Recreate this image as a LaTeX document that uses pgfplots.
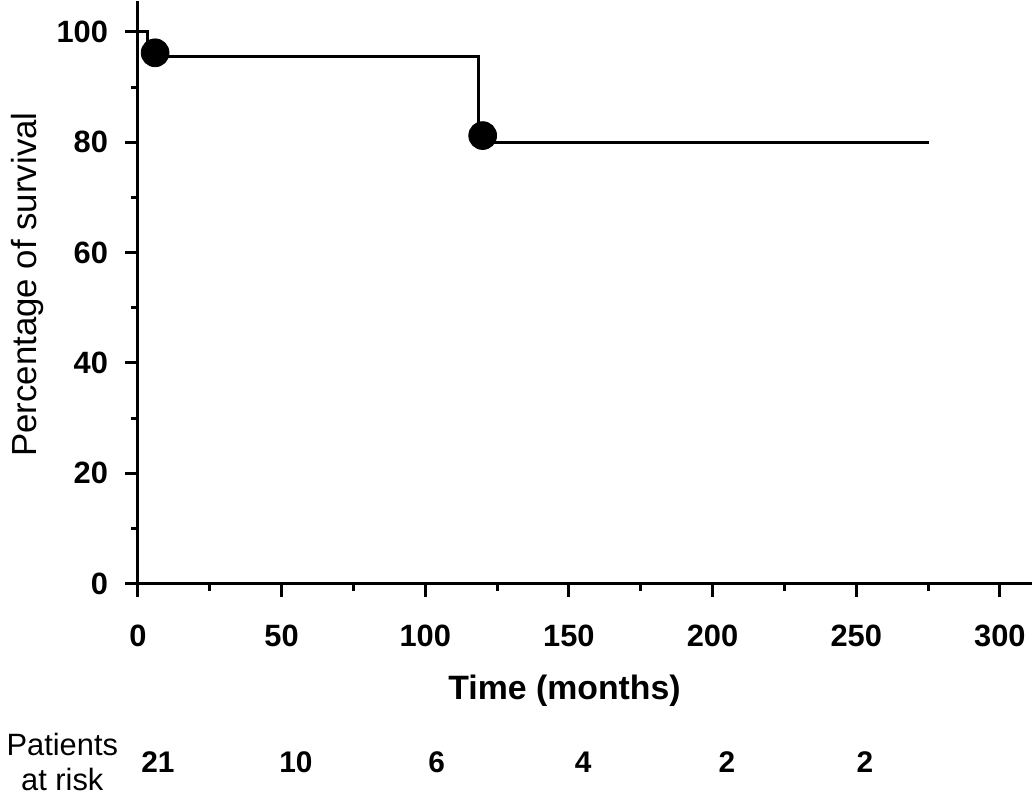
\documentclass[border=0pt]{standalone}
\usepackage{fontspec}
\setmainfont{Liberation Sans}
\usepackage{pgfplots}
\pgfplotsset{compat=1.18}

\begin{document}
\begin{tikzpicture}[risk/.style={font=\fontsize{15}{18}\selectfont\bfseries}]
  \begin{axis}[
      x=1.445pt, y=2.775pt,
      xmin=0, xmax=311,
      ymin=0, ymax=105.5,
      axis lines=left,
      axis line style={-, line width=1.5pt},
      clip=false,
      xtick={0,50,...,300},
      ytick={0,20,...,100},
      minor tick num=1,
      tick align=outside,
      major tick length=6.5pt,
      minor tick length=3.5pt,
      every tick/.style={black, line width=1.5pt},
      /pgf/number format/assume math mode=true,
      ticklabel style={font=\fontsize{15.5}{18}\selectfont\bfseries},
      xticklabel style={yshift=-11pt},
      yticklabel style={xshift=-5pt},
  ]
  % Kaplan-Meier step curve
  \addplot[const plot, black, line width=1.5pt] coordinates {
      (0,100) (3.3,95.5) (118.5,80) (275.4,80)
  };
  % markers
  \addplot[only marks, mark=*, mark size=7pt, black] coordinates {
      (6,96.2) (120,81.2)
  };

  \node[font=\fontsize{17}{20}\selectfont\bfseries] at (axis cs:148.5,-19.5) {Time (months)};
  \node[rotate=90, font=\fontsize{17.5}{20}\selectfont] at (axis cs:-38.4,54.2) {Percentage of survival};
  \node[align=center, font=\fontsize{15.5}{17.5}\selectfont] at (axis cs:-26.3,-32.3) {Patients\\at risk};

  % numbers at risk
  \node[risk] at (axis cs:7,-32.3) {21};
  \node[risk] at (axis cs:55,-32.3) {10};
  \node[risk] at (axis cs:104,-32.3) {6};
  \node[risk] at (axis cs:155,-32.3) {4};
  \node[risk] at (axis cs:205,-32.3) {2};
  \node[risk] at (axis cs:253,-32.3) {2};
  \end{axis}
\end{tikzpicture}
\end{document}
